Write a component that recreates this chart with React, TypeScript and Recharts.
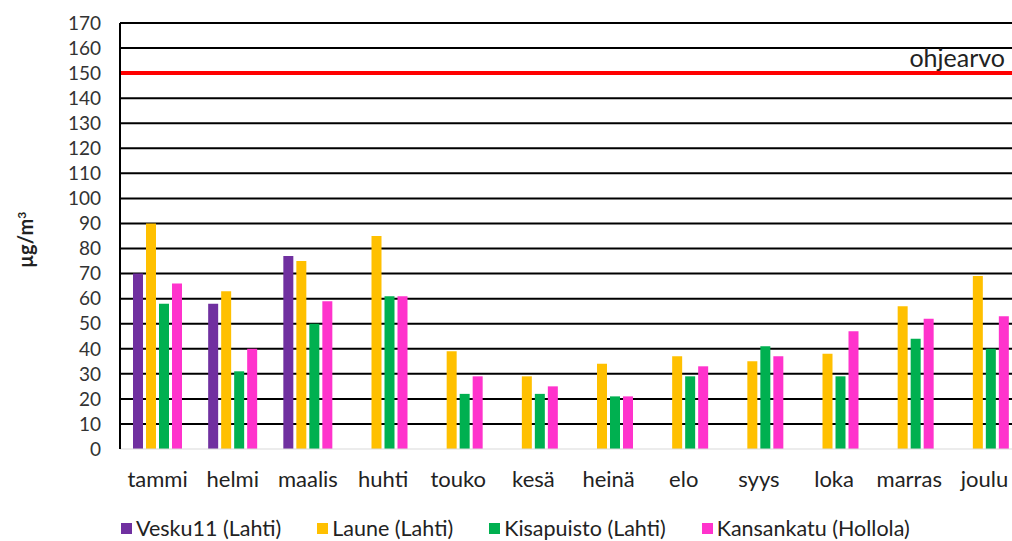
import { BarChart, Bar, XAxis, YAxis, CartesianGrid, ReferenceLine } from "recharts";

// Kuukausittaiset pitoisuudet, µg/m³
const months = ["tammi", "helmi", "maalis", "huhti", "touko", "kesä", "heinä", "elo", "syys", "loka", "marras", "joulu"];
const vesku = [70, 58, 77, null, null, null, null, null, null, null, null, null];
const laune = [90, 63, 75, 85, 39, 29, 34, 37, 35, 38, 57, 69];
const kisapuisto = [58, 31, 50, 61, 22, 22, 21, 29, 41, 29, 44, 40];
const kansankatu = [66, 40, 59, 61, 29, 25, 21, 33, 37, 47, 52, 53];
const yTicks = [0, 10, 20, 30, 40, 50, 60, 70, 80, 90, 100, 110, 120, 130, 140, 150, 160, 170];
const guideValue = 150;

const series = [
  { key: "vesku", name: "Vesku11 (Lahti)", color: "#7030A0" },
  { key: "laune", name: "Laune (Lahti)", color: "#FFC000" },
  { key: "kisapuisto", name: "Kisapuisto (Lahti)", color: "#00B050" },
  { key: "kansankatu", name: "Kansankatu (Hollola)", color: "#FF33CC" },
];

const data = months.map((m, i) => ({
  month: m,
  vesku: vesku[i],
  laune: laune[i],
  kisapuisto: kisapuisto[i],
  kansankatu: kansankatu[i],
}));

const FONT = "Lato, 'Open Sans', sans-serif";

function GuideLabel(props: any) {
  const vb = props.viewBox || {};
  return (
    <text x={vb.x + vb.width - 17} y={vb.y - 6} textAnchor="end" fontSize={25} fontFamily={FONT} fill="#222">
      ohjearvo
    </text>
  );
}

export default function App() {
  return (
    <div style={{ position: "absolute", left: 0, top: 0, width: 1012, height: 541, overflow: "hidden", background: "#fff", fontFamily: FONT }}>
      <BarChart
        width={1030}
        height={541}
        data={data}
        margin={{ top: 23, right: 8, left: 0, bottom: 52 }}
        barSize={10}
        barGap={3}
      >
        <CartesianGrid vertical={false} stroke="#000" strokeWidth={2} horizontalValues={yTicks.slice(1)} />
        <XAxis
          dataKey="month"
          height={40}
          axisLine={{ stroke: "#d9d9d9", strokeWidth: 1 }}
          tickLine={false}
          tickSize={0}
          tickMargin={22}
          tick={{ fontSize: 22, fill: "#222", fontFamily: FONT }}
          interval={0}
        />
        <YAxis
          width={120}
          domain={[0, 170]}
          ticks={yTicks}
          interval={0}
          axisLine={{ stroke: "#000", strokeWidth: 2 }}
          tickLine={false}
          tickSize={0}
          tickMargin={19}
          tick={{ fontSize: 19, fill: "#333", fontFamily: FONT }}
        />
        {series.map((s) => (
          <Bar key={s.key} dataKey={s.key} name={s.name} fill={s.color} isAnimationActive={false} />
        ))}
        <ReferenceLine y={guideValue} stroke="#FF0000" strokeWidth={4} label={<GuideLabel />} />
        <text transform="translate(33,240) rotate(-90)" textAnchor="middle" fontSize={20} fontWeight="bold" fontFamily={FONT} fill="#222">
          µg/m<tspan baselineShift="super" fontSize={12}>3</tspan>
        </text>
      </BarChart>
      <div style={{ position: "absolute", left: 121, top: 514, display: "flex", gap: 36, fontSize: 21.5, lineHeight: "28px", color: "#222", whiteSpace: "nowrap" }}>
        {series.map((s) => (
          <div key={s.key} style={{ display: "flex", alignItems: "center" }}>
            <span style={{ width: 11, height: 11, background: s.color, marginRight: 4, display: "inline-block" }} />
            {s.name}
          </div>
        ))}
      </div>
    </div>
  );
}
